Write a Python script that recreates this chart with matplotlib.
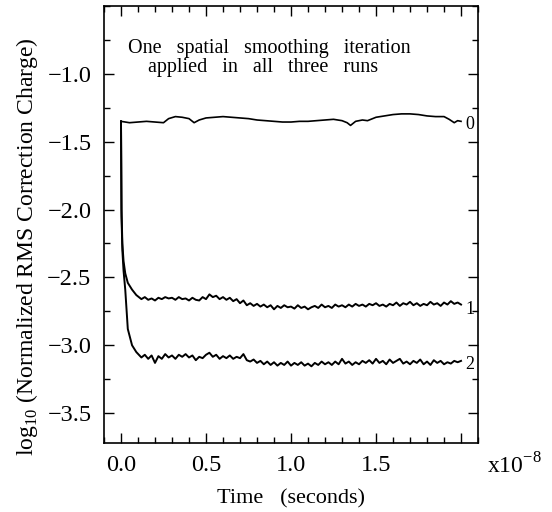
import numpy as np
import matplotlib
matplotlib.use("Agg")
import matplotlib.pyplot as plt
from matplotlib.ticker import MultipleLocator, FixedLocator, FixedFormatter

plt.rcParams["font.family"] = ["Liberation Serif", "DejaVu Serif"]
plt.rcParams["mathtext.fontset"] = "custom"
plt.rcParams["mathtext.rm"] = "Liberation Serif"

# run 0: no correction iterations (stays high)
t0 = [0.0, 0.05, 0.1, 0.15, 0.2, 0.25, 0.28, 0.32, 0.36, 0.4, 0.43, 0.46, 0.5,
      0.55, 0.6, 0.65, 0.7, 0.75, 0.8, 0.85, 0.9, 0.95, 1.0, 1.05, 1.1, 1.15,
      1.2, 1.25, 1.3, 1.33, 1.35, 1.38, 1.42, 1.45, 1.47, 1.5, 1.55, 1.6, 1.65,
      1.7, 1.75, 1.8, 1.85, 1.9, 1.93, 1.96, 1.98, 2.0]
y0 = [-1.35, -1.36, -1.355, -1.35, -1.355, -1.36, -1.33, -1.315, -1.32, -1.33,
      -1.36, -1.34, -1.325, -1.32, -1.315, -1.32, -1.325, -1.33, -1.34, -1.345,
      -1.35, -1.355, -1.355, -1.35, -1.35, -1.345, -1.34, -1.335, -1.345, -1.36,
      -1.38, -1.35, -1.34, -1.345, -1.335, -1.32, -1.31, -1.3, -1.295, -1.295,
      -1.3, -1.31, -1.315, -1.315, -1.335, -1.36, -1.345, -1.35]

# initial drop, shared grid for runs 1 and 2
t_drop = [0.0, 0.003, 0.008, 0.015, 0.025, 0.04, 0.065, 0.09]
y1_drop = [-1.35, -2.0, -2.25, -2.38, -2.47, -2.54, -2.59, -2.63]
y2_drop = [-1.35, -2.05, -2.3, -2.45, -2.59, -2.88, -3.0, -3.05]

# noisy plateau, every 0.02 from 0.12 to 2.0
t_flat = [round(0.12 + 0.02 * i, 2) for i in range(95)]
y1_flat = [-2.66, -2.645, -2.665, -2.655, -2.67, -2.65, -2.66, -2.645, -2.655, -2.65,
           -2.665, -2.645, -2.66, -2.655, -2.67, -2.65, -2.665, -2.67, -2.645, -2.66,
           -2.625, -2.645, -2.635, -2.66, -2.645, -2.665, -2.65, -2.675, -2.66, -2.69,
           -2.67, -2.705, -2.69, -2.71, -2.695, -2.715, -2.7, -2.72, -2.705, -2.735,
           -2.71, -2.725, -2.705, -2.72, -2.715, -2.73, -2.705, -2.725, -2.715, -2.735,
           -2.72, -2.71, -2.725, -2.7, -2.72, -2.71, -2.725, -2.7, -2.715, -2.705,
           -2.72, -2.7, -2.715, -2.695, -2.71, -2.7, -2.715, -2.695, -2.705, -2.69,
           -2.71, -2.7, -2.715, -2.695, -2.705, -2.685, -2.71, -2.69, -2.7, -2.68,
           -2.705, -2.69, -2.71, -2.695, -2.705, -2.68, -2.7, -2.69, -2.71, -2.685,
           -2.7, -2.675, -2.695, -2.685, -2.7]
y2_flat = [-3.09, -3.07, -3.1, -3.075, -3.13, -3.08, -3.1, -3.065, -3.09, -3.075,
           -3.1, -3.07, -3.085, -3.065, -3.09, -3.075, -3.11, -3.085, -3.095, -3.07,
           -3.055, -3.085, -3.07, -3.1, -3.08, -3.095, -3.075, -3.1, -3.085, -3.095,
           -3.065, -3.11, -3.12, -3.105, -3.13, -3.115, -3.14, -3.12, -3.145, -3.125,
           -3.15, -3.13, -3.145, -3.12, -3.15, -3.13, -3.145, -3.125, -3.15, -3.135,
           -3.155, -3.13, -3.145, -3.12, -3.14, -3.125, -3.145, -3.12, -3.14, -3.1,
           -3.135, -3.12, -3.145, -3.125, -3.14, -3.115, -3.13, -3.11, -3.135, -3.1,
           -3.13, -3.115, -3.14, -3.105, -3.13, -3.115, -3.1, -3.135, -3.12, -3.14,
           -3.115, -3.13, -3.105, -3.14, -3.12, -3.145, -3.11, -3.13, -3.115, -3.14,
           -3.125, -3.135, -3.115, -3.125, -3.115]

run_labels = ["0", "1", "2"]
label_y = [-1.37, -2.735, -3.14]

xticks = [0.0, 0.5, 1.0, 1.5, 2.0]
xticklabels = ["0.0", "0.5", "1.0", "1.5", ""]
yticks = [-3.5, -3.0, -2.5, -2.0, -1.5, -1.0]
yticklabels = ["\u22123.5", "\u22123.0", "\u22122.5", "\u22122.0", "\u22121.5", "\u22121.0"]

fig = plt.figure(figsize=(5.52, 5.12), dpi=100)
ax = fig.add_axes([0.1884, 0.1348, 0.6776, 0.8535])

ax.plot(t0, y0, color="black", lw=1.2)
ax.plot(t_drop + t_flat, y1_drop + y1_flat, color="black", lw=1.4)
ax.plot(t_drop + t_flat, y2_drop + y2_flat, color="black", lw=1.4)

for lab, ly in zip(run_labels, label_y):
    ax.text(2.025, ly, lab, fontsize=13, va="center", ha="left")

ax.set_xlim(-0.1, 2.1)
ax.set_ylim(-3.72, -0.5)

ax.xaxis.set_major_locator(FixedLocator(xticks))
ax.xaxis.set_major_formatter(FixedFormatter(xticklabels))
ax.xaxis.set_minor_locator(MultipleLocator(0.1))
ax.yaxis.set_major_locator(FixedLocator(yticks))
ax.yaxis.set_major_formatter(FixedFormatter(yticklabels))
ax.yaxis.set_minor_locator(MultipleLocator(0.25))

ax.tick_params(which="both", direction="in", top=True, right=True, width=1.0)
ax.tick_params(which="major", length=7, labelsize=17.5, pad=9)
ax.tick_params(which="minor", length=4)
for sp in ax.spines.values():
    sp.set_linewidth(1.2)

ax.text(0.04, -0.85, "One   spatial   smoothing   iteration", fontsize=14.5)
ax.text(0.16, -0.99, "applied   in   all   three   runs", fontsize=14.5)

ax.set_xlabel("Time   (seconds)", fontsize=16, labelpad=9)
ax.set_ylabel("log$_{10}$ (Normalized RMS Correction Charge)", fontsize=17)
ax.yaxis.set_label_coords(-0.17, 0.45)
fig.text(0.882, 0.09, "x10$^{-8}$", fontsize=17, ha="left", va="center")

fig.savefig("out.png", dpi=100)
